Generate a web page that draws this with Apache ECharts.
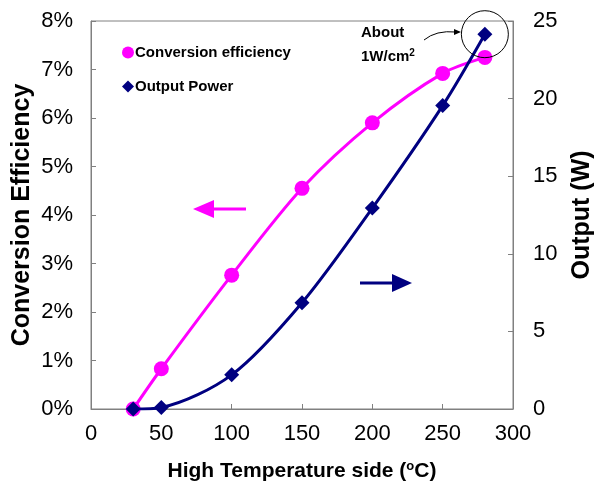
<!DOCTYPE html>
<html>
<head>
<meta charset="utf-8">
<script src="https://cdn.jsdelivr.net/npm/echarts@6/dist/echarts.min.js"></script>
<style>
  html, body { margin: 0; padding: 0; background: #fff; }
  #chart { width: 595px; height: 492px; }
</style>
</head>
<body>
<div id="chart"></div>
<script>
// temperature on the hot side (degC)
var temps = [30, 50, 100, 150, 200, 250, 280];
// conversion efficiency (%)
var efficiency = [0, 0.83, 2.76, 4.55, 5.9, 6.92, 7.25];
// output power (W)
var output = [0, 0.1, 2.2, 6.85, 12.95, 19.55, 24.15];

var FONT = 'Liberation Sans, Arial, sans-serif';
var MAGENTA = '#ff00ff';
var NAVY = '#000080';

function pairs(xs, ys) {
    return xs.map(function (x, i) { return [x, ys[i]]; });
}

var mychart = echarts.init(document.getElementById('chart'));
mychart.setOption({
    animation: false,
    grid: {
        left: 91, right: 82, top: 21, bottom: 83,
        outerBoundsMode: 'none', containLabel: false,
        show: true, borderColor: '#808080', borderWidth: 1
    },
    legend: {
        orient: 'vertical',
        left: 117,
        top: 40,
        itemGap: 19,
        itemWidth: 12,
        itemHeight: 12,
        textStyle: { fontFamily: FONT, fontWeight: 'bold', fontSize: 15, color: '#000', padding: [0, 0, 0, -4] },
        data: [
            { name: 'Conversion efficiency', icon: 'circle' },
            { name: 'Output Power', icon: 'diamond', itemStyle: { color: NAVY } }
        ]
    },
    xAxis: {
        type: 'value',
        min: 0, max: 300, interval: 50,
        splitLine: { show: false },
        axisLine: { lineStyle: { color: '#808080' } },
        axisTick: { inside: true, length: 5, lineStyle: { color: '#808080' } },
        axisLabel: { fontFamily: FONT, fontSize: 22, color: '#000', margin: 14 },
        name: 'High Temperature side ({sup|o}C)',
        nameLocation: 'middle',
        nameGap: 51,
        nameMoveOverlap: false,
        nameTextStyle: {
            fontFamily: FONT, fontWeight: 'bold', fontSize: 21, color: '#000',
            rich: { sup: { fontFamily: FONT, fontWeight: 'bold', fontSize: 13, verticalAlign: 'top', padding: [0, 0, 10, 0] } }
        }
    },
    yAxis: [{
        type: 'value',
        min: 0, max: 8, interval: 1,
        splitLine: { show: false },
        axisLine: { show: true, lineStyle: { color: '#808080' } },
        axisTick: { show: true, inside: true, length: 5, lineStyle: { color: '#808080' } },
        axisLabel: { fontFamily: FONT, fontSize: 22, color: '#000', margin: 18, formatter: '{value}%' },
        name: 'Conversion Efficiency',
        nameLocation: 'middle',
        nameGap: 56,
        nameMoveOverlap: false,
        nameTextStyle: { fontFamily: FONT, fontWeight: 'bold', fontSize: 25, color: '#000' }
    }, {
        type: 'value',
        min: 0, max: 25, interval: 5,
        splitLine: { show: false },
        axisLine: { show: true, lineStyle: { color: '#808080' } },
        axisTick: { show: true, inside: true, length: 5, lineStyle: { color: '#808080' } },
        axisLabel: { fontFamily: FONT, fontSize: 22, color: '#000', margin: 20 },
        name: 'Output (W)',
        nameLocation: 'middle',
        nameGap: 57,
        nameRotate: 90,
        nameMoveOverlap: false,
        nameTextStyle: { fontFamily: FONT, fontWeight: 'bold', fontSize: 25, color: '#000' }
    }],
    series: [{
        name: 'Conversion efficiency',
        type: 'line',
        smooth: 0.3,
        data: pairs(temps, efficiency),
        symbol: 'circle',
        symbolSize: 15,
        itemStyle: { color: MAGENTA },
        lineStyle: { color: MAGENTA, width: 3 },
        z: 2
    }, {
        name: 'Output Power',
        type: 'line',
        yAxisIndex: 1,
        smooth: 0.3,
        data: pairs(temps, output),
        symbol: 'diamond',
        symbolSize: 15,
        itemStyle: { color: NAVY },
        lineStyle: { color: NAVY, width: 3 },
        z: 3,
        markPoint: {
            silent: true,
            symbol: 'circle',
            symbolSize: 47,
            itemStyle: { color: 'rgba(0,0,0,0)', borderColor: '#000', borderWidth: 1 },
            label: { show: false },
            data: [{ coord: [temps[6], output[6]] }]
        }
    }],
    graphic: [
        // left arrow (efficiency -> left axis)
        { type: 'line', shape: { x1: 212, y1: 209, x2: 246, y2: 209 }, style: { stroke: MAGENTA, lineWidth: 3 } },
        { type: 'polygon', shape: { points: [[193, 209], [214, 200], [214, 218]] }, style: { fill: MAGENTA } },
        // right arrow (output -> right axis)
        { type: 'line', shape: { x1: 360, y1: 283, x2: 394, y2: 283 }, style: { stroke: NAVY, lineWidth: 3 } },
        { type: 'polygon', shape: { points: [[412, 283], [392, 274], [392, 292]] }, style: { fill: NAVY } },
        // annotation
        { type: 'text', left: 361, top: 25, style: { text: 'About', font: 'bold 15px ' + FONT, fill: '#000' } },
        { type: 'text', left: 361, top: 48, style: { text: '1W/cm{sup|2}', font: 'bold 15px ' + FONT, fill: '#000',
            rich: { sup: { font: 'bold 10px ' + FONT, verticalAlign: 'top', padding: [0, 0, 7, 0] } } } },
        { type: 'bezierCurve', shape: { x1: 424, y1: 40, cpx1: 436, cpy1: 30, x2: 456, y2: 32 }, style: { stroke: '#000', lineWidth: 1, fill: null } },
        { type: 'polygon', shape: { points: [[461, 32], [454, 29], [454, 35]] }, style: { fill: '#000' } }
    ]
});
</script>
</body>
</html>
